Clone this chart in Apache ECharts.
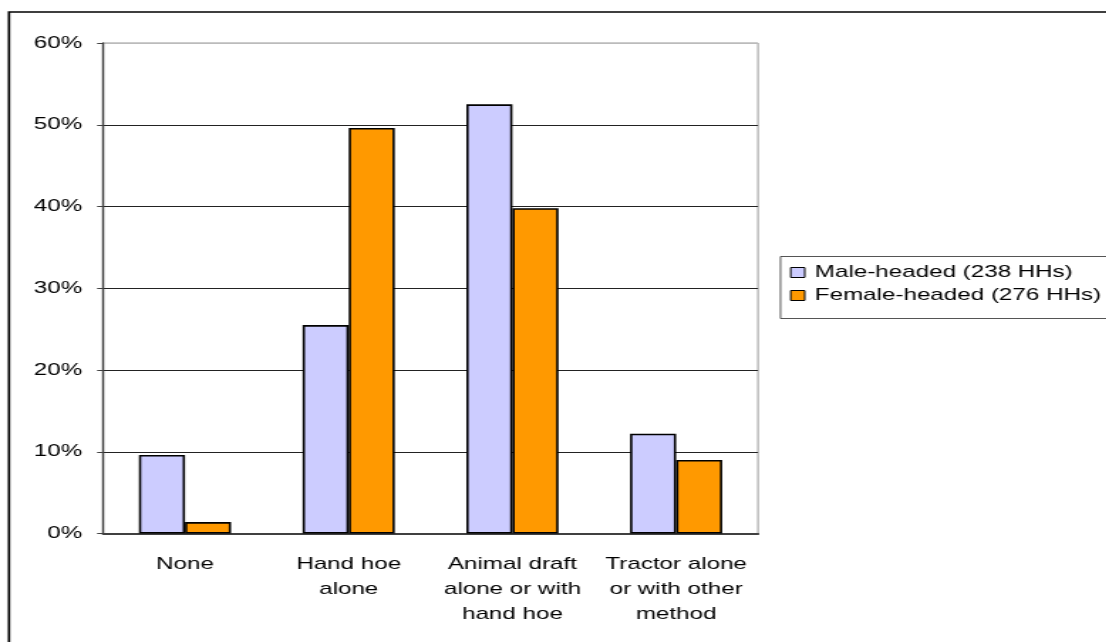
<!DOCTYPE html>
<html>
<head>
<meta charset="utf-8">
<script src="https://cdn.jsdelivr.net/npm/echarts@6/dist/echarts.min.js"></script>
<style>
  html, body { margin: 0; padding: 0; background: #fff; overflow: hidden; }
  #stage { width: 1106px; height: 642px; overflow: hidden; }
  #chart { height: 642px; transform-origin: 0 0; }
</style>
</head>
<body>
<div id="stage"><div id="chart"></div></div>
<script>
// Tillage method categories
const categories = [
  'None',
  'Hand hoe\nalone',
  'Animal draft\nalone or with\nhand hoe',
  'Tractor alone\nor with other\nmethod'
];
// Share of households (%)
const maleHeaded = [9.6, 25.5, 52.5, 12.2];
const femaleHeaded = [1.4, 49.6, 39.8, 9.0];
const seriesNames = ['Male-headed (238 HHs)', 'Female-headed (276 HHs)'];
// Value axis ticks
const yTicks = { min: 0, max: 60, step: 10 };

// The chart is laid out in a narrower frame and widened horizontally,
// giving the broad lettering of the printed figure.
const SX = 1.42;
const W = 1106 / SX;
const px = v => v / SX;

const el = document.getElementById('chart');
el.style.width = W + 'px';
el.style.transform = 'scaleX(' + SX + ')';

const font = 'Liberation Sans, Arial, sans-serif';
const FS = 17;
const chart = echarts.init(el, null, { renderer: 'canvas', width: W, height: 642 });

chart.setOption({
  backgroundColor: '#fff',
  animation: false,
  textStyle: { fontFamily: font },
  graphic: [
    {
      type: 'rect', z: 0,
      shape: { x: px(9), y: 12, width: 1000, height: 700 },
      style: { fill: 'none', stroke: '#000', lineWidth: 1.7 }
    },
    {
      type: 'rect', z: 0,
      shape: { x: px(779.5), y: 256.5, width: 400, height: 62 },
      style: { fill: '#fff', stroke: '#555', lineWidth: 1 }
    }
  ],
  legend: {
    left: px(789),
    top: 264,
    padding: 0,
    orient: 'vertical',
    itemWidth: px(14),
    itemHeight: 10,
    itemGap: 6,
    icon: 'rect',
    textStyle: { fontSize: FS, color: '#000', fontFamily: font, padding: [0, 0, 0, px(3)] },
    itemStyle: { borderColor: '#000', borderWidth: 1 },
    data: seriesNames
  },
  grid: {
    left: px(103), right: W - px(757), top: 43, bottom: 108.5,
    show: true, borderColor: '#999', borderWidth: 1
  },
  xAxis: {
    type: 'category',
    data: categories,
    axisLine: { lineStyle: { color: '#404040', width: 2 } },
    axisTick: { length: 6, lineStyle: { color: '#404040', width: 1 } },
    axisLabel: {
      color: '#000', fontSize: FS, lineHeight: 25, margin: 18,
      fontFamily: font, interval: 0
    }
  },
  yAxis: {
    type: 'value',
    min: yTicks.min, max: yTicks.max, interval: yTicks.step,
    axisLine: { show: true, lineStyle: { color: '#404040', width: px(2) } },
    axisTick: { show: true, length: px(6), lineStyle: { color: '#404040', width: 1 } },
    axisLabel: {
      color: '#000', fontSize: FS, margin: px(21), fontFamily: font,
      formatter: '{value}%'
    },
    splitLine: {
      show: true,
      lineStyle: { color: ['#222', '#222', '#222', '#222', '#222', '#222', '#bbb'], width: 1 }
    }
  },
  series: [
    {
      name: seriesNames[0], type: 'bar', data: maleHeaded,
      barWidth: px(46), barGap: '0%',
      itemStyle: { color: '#CCCCFF', borderColor: '#000', borderWidth: 1.6 }
    },
    {
      name: seriesNames[1], type: 'bar', data: femaleHeaded,
      barWidth: px(46), barGap: '0%',
      itemStyle: { color: '#FF9900', borderColor: '#000', borderWidth: 1.6 }
    }
  ]
});
</script>
</body>
</html>
